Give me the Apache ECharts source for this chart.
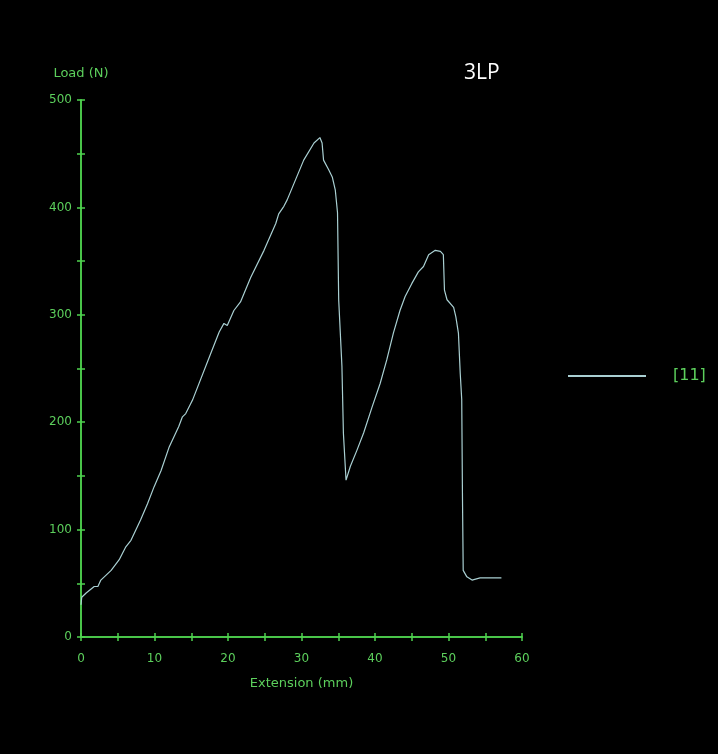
<!DOCTYPE html>
<html>
<head>
<meta charset="utf-8">
<script src="https://cdn.jsdelivr.net/npm/echarts@6/dist/echarts.min.js"></script>
<style>html,body{margin:0;padding:0;background:#000;}#c{width:718px;height:754px;}</style>
</head>
<body>
<div id="c"></div>
<script>
const seriesName = '[11]';
const extension = [0, 0.1, 0.7, 1.8, 2.3, 2.7, 4.1, 5.2, 6.1, 6.8, 8.1, 9.05, 9.95, 10.9, 12.0, 13.3, 13.8, 14.25, 14.9, 15.2, 17.65, 18.8, 19.45, 19.9, 20.8, 21.7, 23.1, 24.9, 26.5, 26.9, 27.6, 28.05, 30.3, 31.7, 32.5, 32.8, 33.0, 33.7, 34.2, 34.6, 34.9, 35.06, 35.5, 35.7, 36.06, 36.65, 37.55, 38.45, 39.6, 40.7, 41.6, 42.5, 43.4, 44.1, 45.0, 45.9, 46.6, 47.3, 48.2, 48.9, 49.3, 49.45, 49.8, 50.7, 51.0, 51.35, 51.6, 51.8, 51.9, 52.0, 52.5, 53.2, 54.3, 57.2];
const load = [30, 37, 41, 47, 47, 53, 62, 72, 84, 90, 109, 124, 140, 155, 177, 196, 205, 208, 217, 221, 264, 284, 292, 290, 304, 312, 335, 360, 385, 394, 401, 407, 444, 460, 465, 460, 444, 435, 428, 416, 395, 314, 252, 190, 146, 159, 174, 190, 214, 236, 258, 283, 304, 317, 329, 340, 345, 356, 360, 359, 356, 323, 314, 307, 298, 283, 245, 221, 131, 62, 56, 53, 55, 55];

const green = '#4fd24f';
const labelGreen = '#5ccf5c';
const font = 'DejaVu Sans';

const chart = echarts.init(document.getElementById('c'));
const data = extension.map((x, i) => [x, load[i]]);

const xBase = {type: 'value', min: 0, max: 60, interval: 5, gridIndex: 0};
const yBase = {type: 'value', min: 0, max: 500, interval: 50, gridIndex: 0};

chart.setOption({
  backgroundColor: '#000',
  animation: false,
  title: {text: '3LP', left: 459, top: 58, textStyle: {color: '#ffffff', fontSize: 21, fontWeight: 'normal', fontFamily: 'Open Sans'}},
  legend: {
    left: 563, top: 363, icon: 'rect', itemWidth: 78, itemHeight: 2,
    data: [seriesName],
    textStyle: {color: labelGreen, fontSize: 16, fontFamily: font, padding: [8, 0, 0, 22]}
  },
  grid: {left: 81, right: 196, top: 100, bottom: 117, containLabel: false},
  xAxis: [
    Object.assign({}, xBase, {
      name: 'Extension (mm)', nameLocation: 'middle', nameGap: 40, nameMoveOverlap: false,
      nameTextStyle: {color: labelGreen, fontSize: 13, fontFamily: font},
      axisLine: {show: true, onZero: false, lineStyle: {color: green, width: 1.5}},
      axisTick: {show: true, length: 4, lineStyle: {color: green, width: 1.5}},
      axisLabel: {color: labelGreen, fontSize: 12, fontFamily: font, margin: 16, formatter: v => (v % 10 === 0 ? String(v) : '')},
      splitLine: {show: false}
    }),
    Object.assign({}, xBase, {
      position: 'bottom', offset: 0,
      axisLine: {show: true, onZero: false, lineStyle: {color: green, width: 1.5}},
      axisTick: {show: true, inside: true, length: 4, lineStyle: {color: green, width: 1.5}},
      axisLabel: {show: false}, splitLine: {show: false}
    })
  ],
  yAxis: [
    Object.assign({}, yBase, {
      name: 'Load (N)', nameLocation: 'end', nameGap: 20,
      nameTextStyle: {color: labelGreen, fontSize: 13, fontFamily: font, align: 'center'},
      axisLine: {show: true, onZero: false, lineStyle: {color: green, width: 1.5}},
      axisTick: {show: true, length: 4, lineStyle: {color: green, width: 1.5}},
      axisLabel: {color: labelGreen, fontSize: 12, fontFamily: font, margin: 9, formatter: v => (v % 100 === 0 ? String(v) : '')},
      splitLine: {show: false}
    }),
    Object.assign({}, yBase, {
      position: 'left', offset: 0,
      axisLine: {show: true, onZero: false, lineStyle: {color: green, width: 1.5}},
      axisTick: {show: true, inside: true, length: 4, lineStyle: {color: green, width: 1.5}},
      axisLabel: {show: false}, splitLine: {show: false}
    })
  ],
  series: [{
    name: seriesName, type: 'line', data: data, xAxisIndex: 0, yAxisIndex: 0,
    showSymbol: false, symbol: 'none',
    lineStyle: {color: '#a9cfd2', width: 1.2},
    itemStyle: {color: '#a9cfd2'}
  }]
});
</script>
</body>
</html>
